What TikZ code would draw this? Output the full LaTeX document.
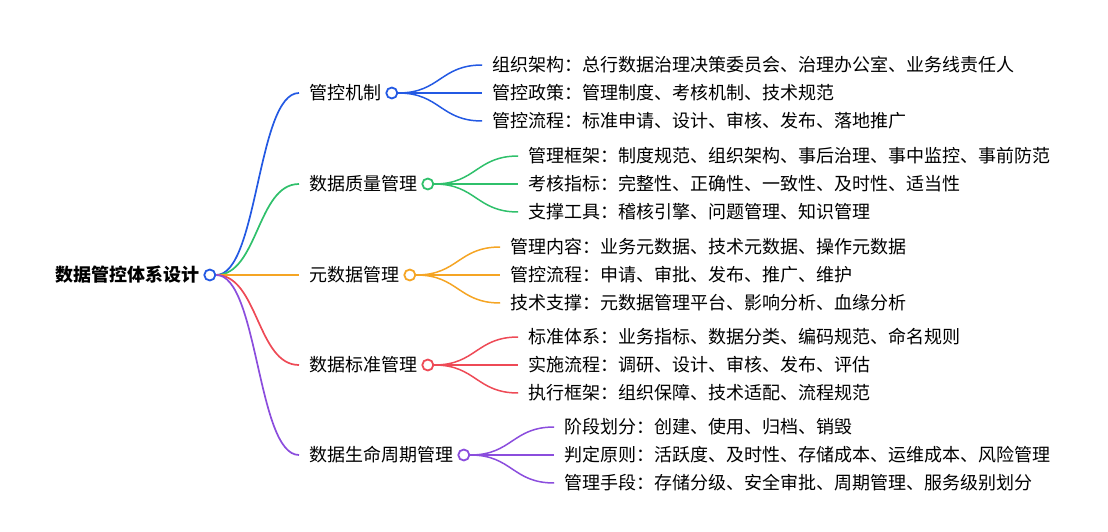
\documentclass[tikz,border=0pt]{standalone}
\usepackage{fontspec}
\setmainfont{Noto Sans CJK SC}
\usetikzlibrary{positioning,calc}
\definecolor{gkblue}{HTML}{2359E3}
\definecolor{zlgreen}{HTML}{2FC06B}
\definecolor{ysjorange}{HTML}{F5A524}
\definecolor{bzred}{HTML}{EE4A56}
\definecolor{smpurple}{HTML}{8B4DDD}
\tikzset{
  rootlabel/.style={inner sep=0pt, anchor=west,
    font=\fontsize{18}{21}\selectfont\bfseries},
  branchlabel/.style={inner sep=0pt, anchor=west,
    font=\fontsize{18}{21}\selectfont},
  leaflabel/.style={inner sep=0pt, anchor=west,
    font=\fontsize{18}{21}\selectfont},
  knot/.style={circle, draw=#1, fill=white, line width=1.8pt,
    minimum size=11pt, inner sep=0pt},
  link/.style={draw=#1, line width=1.7pt, shorten >=10pt},
  twig/.style={draw=#1, line width=1.5pt, shorten >=10pt},
}

\begin{document}
\begin{tikzpicture}[x=1pt, y=1pt]
\useasboundingbox (0,0) rectangle (1108,531);

% ---------------- ROOT ----------------
\node[rootlabel] (n-root) at (55,256) {数据管控体系设计};
\node[knot=gkblue, right=4pt of n-root] (c-root) {};

% ---------------- BRANCHES ----------------
\node[branchlabel] (n-gk) at (309,438) {管控机制};
\node[knot=gkblue, right=4pt of n-gk] (c-gk) {};
\node[branchlabel] (n-zl) at (309,347) {数据质量管理};
\node[knot=zlgreen, right=4pt of n-zl] (c-zl) {};
\node[branchlabel] (n-ysj) at (309,256) {元数据管理};
\node[knot=ysjorange, right=4pt of n-ysj] (c-ysj) {};
\node[branchlabel] (n-bz) at (309,166) {数据标准管理};
\node[knot=bzred, right=4pt of n-bz] (c-bz) {};
\node[branchlabel] (n-sm) at (309,76) {数据生命周期管理};
\node[knot=smpurple, right=4pt of n-sm] (c-sm) {};

% ---------------- LEAVES : 管控机制 ----------------
\node[leaflabel] (n-gk1) at ($(c-gk.east)+(94,28)$)
  {组织架构：总行数据治理决策委员会、治理办公室、业务线责任人};
\node[leaflabel] (n-gk2) at ($(c-gk.east)+(94,0)$)
  {管控政策：管理制度、考核机制、技术规范};
\node[leaflabel] (n-gk3) at ($(c-gk.east)+(94,-28)$)
  {管控流程：标准申请、设计、审核、发布、落地推广};

% ---------------- LEAVES : 数据质量管理 ----------------
\node[leaflabel] (n-zl1) at ($(c-zl.east)+(94,28)$)
  {管理框架：制度规范、组织架构、事后治理、事中监控、事前防范};
\node[leaflabel] (n-zl2) at ($(c-zl.east)+(94,0)$)
  {考核指标：完整性、正确性、一致性、及时性、适当性};
\node[leaflabel] (n-zl3) at ($(c-zl.east)+(94,-28)$)
  {支撑工具：稽核引擎、问题管理、知识管理};

% ---------------- LEAVES : 元数据管理 ----------------
\node[leaflabel] (n-ysj1) at ($(c-ysj.east)+(94,28)$)
  {管理内容：业务元数据、技术元数据、操作元数据};
\node[leaflabel] (n-ysj2) at ($(c-ysj.east)+(94,0)$)
  {管控流程：申请、审批、发布、推广、维护};
\node[leaflabel] (n-ysj3) at ($(c-ysj.east)+(94,-28)$)
  {技术支撑：元数据管理平台、影响分析、血缘分析};

% ---------------- LEAVES : 数据标准管理 ----------------
\node[leaflabel] (n-bz1) at ($(c-bz.east)+(94,28)$)
  {标准体系：业务指标、数据分类、编码规范、命名规则};
\node[leaflabel] (n-bz2) at ($(c-bz.east)+(94,0)$)
  {实施流程：调研、设计、审核、发布、评估};
\node[leaflabel] (n-bz3) at ($(c-bz.east)+(94,-28)$)
  {执行框架：组织保障、技术适配、流程规范};

% ---------------- LEAVES : 数据生命周期管理 ----------------
\node[leaflabel] (n-sm1) at ($(c-sm.east)+(94,28)$)
  {阶段划分：创建、使用、归档、销毁};
\node[leaflabel] (n-sm2) at ($(c-sm.east)+(94,0)$)
  {判定原则：活跃度、及时性、存储成本、运维成本、风险管理};
\node[leaflabel] (n-sm3) at ($(c-sm.east)+(94,-28)$)
  {管理手段：存储分级、安全审批、周期管理、服务级别划分};

% ================= ROOT LINKS =================
\draw[link=gkblue]    (c-root.east) .. controls +(42,0) and +(-52,0) .. (n-gk.west);
\draw[link=zlgreen]   (c-root.east) .. controls +(42,0) and +(-52,0) .. (n-zl.west);
\draw[link=ysjorange] (c-root.east) -- (n-ysj.west);
\draw[link=bzred]     (c-root.east) .. controls +(42,0) and +(-52,0) .. (n-bz.west);
\draw[link=smpurple]  (c-root.east) .. controls +(42,0) and +(-52,0) .. (n-sm.west);

% ================= LEAF TWIGS =================
\draw[twig=gkblue] (c-gk.east) .. controls +(42,0) and +(-52,0) .. (n-gk1.west);
\draw[twig=gkblue] (c-gk.east) -- (n-gk2.west);
\draw[twig=gkblue] (c-gk.east) .. controls +(42,0) and +(-52,0) .. (n-gk3.west);

\draw[twig=zlgreen] (c-zl.east) .. controls +(42,0) and +(-52,0) .. (n-zl1.west);
\draw[twig=zlgreen] (c-zl.east) -- (n-zl2.west);
\draw[twig=zlgreen] (c-zl.east) .. controls +(42,0) and +(-52,0) .. (n-zl3.west);

\draw[twig=ysjorange] (c-ysj.east) .. controls +(42,0) and +(-52,0) .. (n-ysj1.west);
\draw[twig=ysjorange] (c-ysj.east) -- (n-ysj2.west);
\draw[twig=ysjorange] (c-ysj.east) .. controls +(42,0) and +(-52,0) .. (n-ysj3.west);

\draw[twig=bzred] (c-bz.east) .. controls +(42,0) and +(-52,0) .. (n-bz1.west);
\draw[twig=bzred] (c-bz.east) -- (n-bz2.west);
\draw[twig=bzred] (c-bz.east) .. controls +(42,0) and +(-52,0) .. (n-bz3.west);

\draw[twig=smpurple] (c-sm.east) .. controls +(42,0) and +(-52,0) .. (n-sm1.west);
\draw[twig=smpurple] (c-sm.east) -- (n-sm2.west);
\draw[twig=smpurple] (c-sm.east) .. controls +(42,0) and +(-52,0) .. (n-sm3.west);

\end{tikzpicture}
\end{document}
